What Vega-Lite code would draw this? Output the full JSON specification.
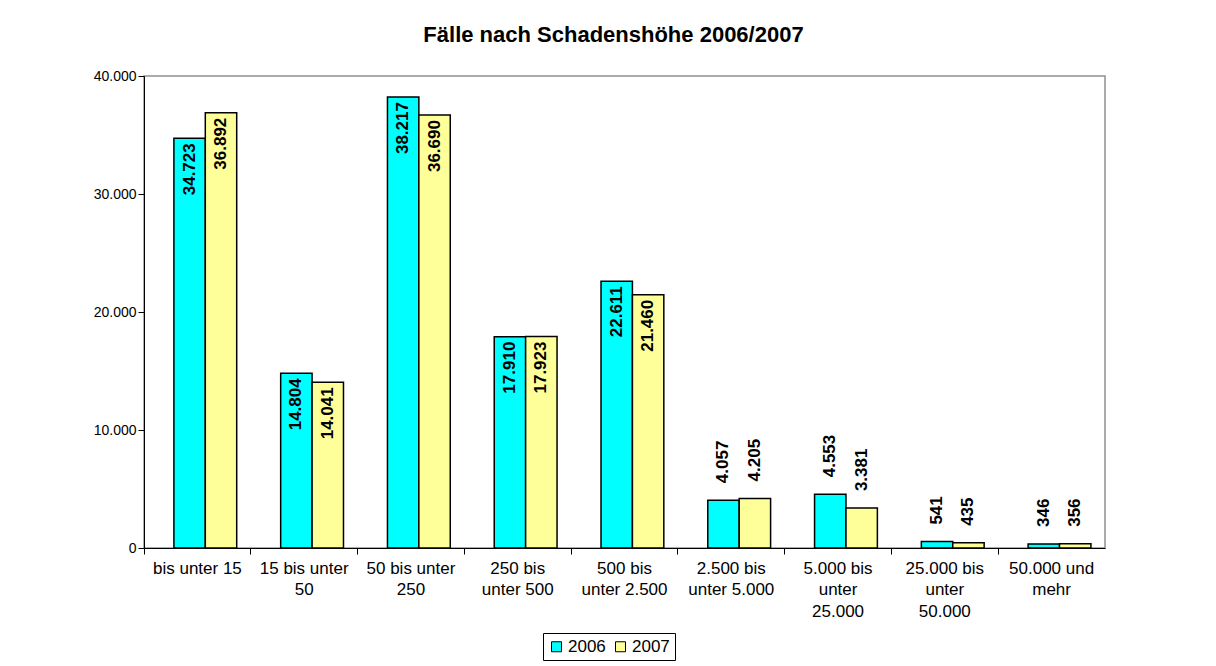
{
  "$schema": "https://vega.github.io/schema/vega-lite/v6.json",
  "width": 961,
  "height": 472,
  "autosize": {"type": "none"},
  "padding": {"left": 144, "top": 76, "right": 111, "bottom": 118},
  "background": "white",
  "title": {
    "text": "Fälle nach Schadenshöhe 2006/2007",
    "font": "Liberation Sans",
    "fontSize": 22,
    "fontWeight": "bold",
    "color": "black",
    "anchor": "middle",
    "frame": "group",
    "offset": 22,
    "dx": -11
  },
  "config": {
    "locale": {"number": {"decimal": ",", "thousands": ".", "grouping": [3], "currency": ["", " €"]}},
    "view": {"stroke": "#909090", "strokeWidth": 1.5},
    "font": "Liberation Sans"
  },
  "data": {
    "values": [
      {"klasse": "bis unter 15", "jahr": "2006", "faelle": 34723},
      {"klasse": "bis unter 15", "jahr": "2007", "faelle": 36892},
      {"klasse": "15 bis unter\n50", "jahr": "2006", "faelle": 14804},
      {"klasse": "15 bis unter\n50", "jahr": "2007", "faelle": 14041},
      {"klasse": "50 bis unter\n250", "jahr": "2006", "faelle": 38217},
      {"klasse": "50 bis unter\n250", "jahr": "2007", "faelle": 36690},
      {"klasse": "250 bis\nunter 500", "jahr": "2006", "faelle": 17910},
      {"klasse": "250 bis\nunter 500", "jahr": "2007", "faelle": 17923},
      {"klasse": "500 bis\nunter 2.500", "jahr": "2006", "faelle": 22611},
      {"klasse": "500 bis\nunter 2.500", "jahr": "2007", "faelle": 21460},
      {"klasse": "2.500 bis\nunter 5.000", "jahr": "2006", "faelle": 4057},
      {"klasse": "2.500 bis\nunter 5.000", "jahr": "2007", "faelle": 4205},
      {"klasse": "5.000 bis\nunter\n25.000", "jahr": "2006", "faelle": 4553},
      {"klasse": "5.000 bis\nunter\n25.000", "jahr": "2007", "faelle": 3381},
      {"klasse": "25.000 bis\nunter\n50.000", "jahr": "2006", "faelle": 541},
      {"klasse": "25.000 bis\nunter\n50.000", "jahr": "2007", "faelle": 435},
      {"klasse": "50.000 und\nmehr", "jahr": "2006", "faelle": 346},
      {"klasse": "50.000 und\nmehr", "jahr": "2007", "faelle": 356}
    ]
  },
  "encoding": {
    "x": {
      "field": "klasse",
      "type": "nominal",
      "sort": null,
      "title": null,
      "scale": {"paddingInner": 0, "paddingOuter": 0},
      "axis": {
        "labelAngle": 0,
        "labelExpr": "split(datum.value, '\\n')",
        "labelFontSize": 17,
        "labelLineHeight": 21.5,
        "labelColor": "black",
        "labelPadding": 6,
        "labelLimit": 0,
        "labelBaseline": "top",
        "domainColor": "black",
        "tickColor": "black",
        "tickSize": 6,
        "bandPosition": 0,
        "labelFont": "Liberation Sans"
      }
    },
    "xOffset": {
      "field": "jahr",
      "type": "nominal",
      "scale": {"paddingInner": 0, "paddingOuter": 0.7, "align": 0.68}
    },
    "y": {
      "field": "faelle",
      "type": "quantitative",
      "title": null,
      "scale": {"domain": [0, 40000]},
      "axis": {
        "values": [0, 10000, 20000, 30000, 40000],
        "format": ",d",
        "grid": false,
        "labelFontSize": 14,
        "labelColor": "black",
        "domainColor": "black",
        "tickColor": "black",
        "tickSize": 6,
        "labelPadding": 2,
        "labelFont": "Liberation Sans"
      }
    }
  },
  "layer": [
    {
      "mark": {"type": "bar", "stroke": "black", "strokeWidth": 1.5},
      "encoding": {
        "color": {
          "field": "jahr",
          "type": "nominal",
          "scale": {"domain": ["2006", "2007"], "range": ["#00FFFF", "#FFFF99"]},
          "legend": {
            "title": null,
            "orient": "none",
            "legendX": 399,
            "legendY": 557,
            "direction": "horizontal",
            "symbolType": "square",
            "symbolSize": 100,
            "symbolStrokeColor": "black",
            "symbolStrokeWidth": 1,
            "labelFontSize": 17,
            "labelColor": "black",
            "labelFont": "Liberation Sans",
            "strokeColor": "black",
            "padding": 5,
            "columnPadding": 6,
            "symbolOffset": 0,
            "labelOffset": 3
          }
        }
      }
    },
    {
      "transform": [{"filter": "datum.faelle >= 10000"}],
      "mark": {
        "type": "text",
        "angle": -90,
        "align": "right",
        "baseline": "middle",
        "dx": -5,
        "fontSize": 17,
        "fontWeight": "bold",
        "font": "Liberation Sans",
        "color": "black"
      },
      "encoding": {
        "text": {"field": "faelle", "type": "quantitative", "format": ",d"}
      }
    },
    {
      "transform": [{"filter": "datum.faelle < 10000"}],
      "mark": {
        "type": "text",
        "angle": -90,
        "align": "left",
        "baseline": "middle",
        "dx": 17,
        "fontSize": 17,
        "fontWeight": "bold",
        "font": "Liberation Sans",
        "color": "black"
      },
      "encoding": {
        "text": {"field": "faelle", "type": "quantitative", "format": ",d"}
      }
    }
  ]
}
